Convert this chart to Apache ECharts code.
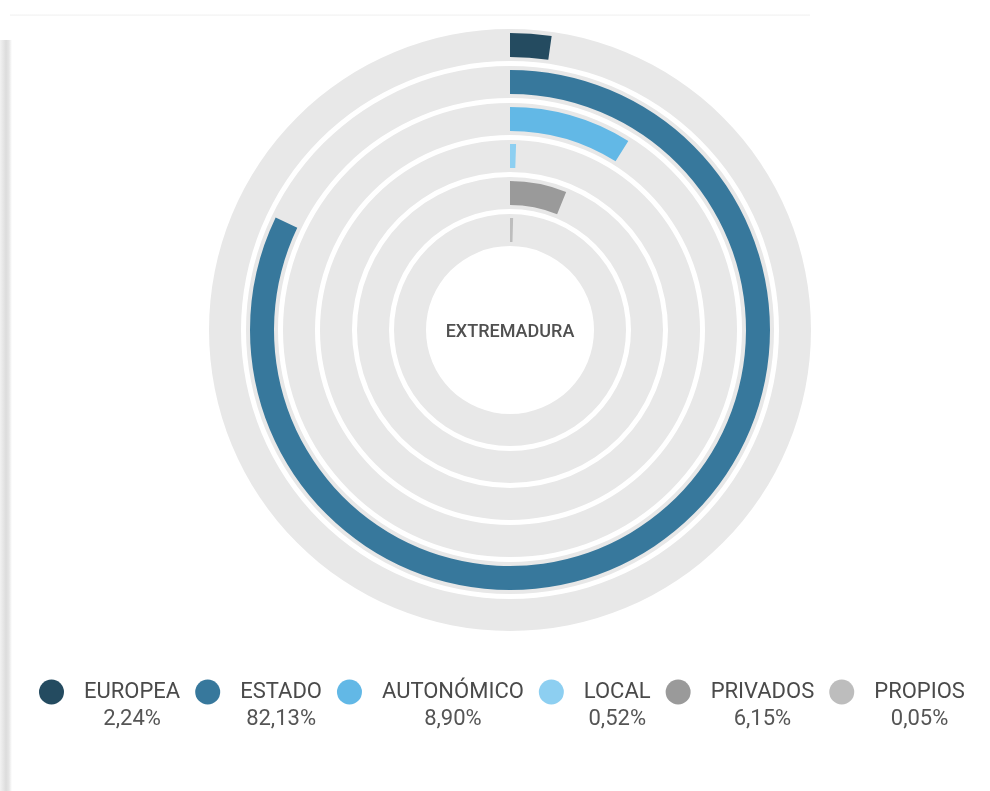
<!DOCTYPE html>
<html>
<head>
<meta charset="utf-8">
<script src="https://cdn.jsdelivr.net/npm/echarts@6/dist/echarts.min.js"></script>
<style>
  html, body { margin: 0; padding: 0; background: #fff; }
  #wrap { position: relative; width: 990px; height: 791px; overflow: hidden; }
  #shadow { position: absolute; left: 0; top: 40px; width: 12px; height: 751px;
    background: linear-gradient(to right, #f2f2f2 0px, #dcdcdc 6px, #e6e6e6 9px, #ffffff 12px); }
  #topline { position: absolute; left: 10px; top: 14px; width: 800px; height: 2px;
    background: linear-gradient(to bottom, #fafafa, #f5f5f5); }
  #main { position: absolute; left: 0; top: 0; width: 990px; height: 791px; }
</style>
</head>
<body>
<div id="wrap">
  <div id="shadow"></div>
  <div id="topline"></div>
  <div id="main"></div>
</div>
<script>
// ---- data ----
const categories = ['EUROPEA', 'ESTADO', 'AUTONÓMICO', 'LOCAL', 'PRIVADOS', 'PROPIOS'];
const values = [2.24, 82.13, 8.90, 0.52, 6.15, 0.05];
const valueLabels = ['2,24%', '82,13%', '8,90%', '0,52%', '6,15%', '0,05%'];
const colors = ['#244b60', '#37789c', '#62b8e6', '#8dcff1', '#9a9a9a', '#bdbdbd'];
const centerLabel = 'EXTREMADURA';
const total = 100;

const chart = echarts.init(document.getElementById('main'), null, { renderer: 'canvas' });

const CX = 510, CY = 330;
const OUTER = 303.5, PITCH = 37, TRACK_HALF = 16, BAR_HALF = 12;

const series = [];
categories.forEach((c, i) => {
  const mid = OUTER - PITCH * i - PITCH / 2;
  // gray track
  series.push({
    type: 'pie', center: [CX, CY], radius: [mid - TRACK_HALF, mid + TRACK_HALF],
    startAngle: 90, clockwise: true, silent: true, z: 1,
    label: { show: false }, labelLine: { show: false }, emphasis: { disabled: true },
    data: [{ name: 'track', value: total, itemStyle: { color: '#e8e8e8' } }]
  });
  // coloured arc
  series.push({
    name: c, type: 'pie', center: [CX, CY], radius: [mid - BAR_HALF, mid + BAR_HALF],
    startAngle: 90, clockwise: true, silent: true, z: 2, minAngle: 1.6,
    label: { show: false }, labelLine: { show: false }, emphasis: { disabled: true },
    data: [
      { name: c, value: values[i], itemStyle: { color: colors[i] } },
      { name: 'rest', value: total - values[i], itemStyle: { color: 'rgba(0,0,0,0)' } }
    ]
  });
});

chart.setOption({
  animation: false,
  backgroundColor: 'transparent',
  legend: {
    data: categories.map((c, i) => ({ name: c, itemStyle: { color: colors[i] } })),
    left: 39, top: 660, padding: 0,
    icon: 'circle', itemWidth: 27, itemHeight: 25, itemGap: 15,
    selectedMode: false,
    formatter: (name) => {
      const i = categories.indexOf(name);
      return '{p| }\n{n|' + name + '}\n{v|' + valueLabels[i] + '}';
    },
    textStyle: {
      padding: [0, 0, 0, 14],
      rich: {
        p: { lineHeight: 28, fontSize: 10 },
        n: { fontFamily: 'Roboto', fontSize: 22, color: '#4a4a4a', lineHeight: 26, align: 'center' },
        v: { fontFamily: 'Roboto', fontSize: 22, color: '#555', lineHeight: 28, align: 'center' }
      }
    }
  },
  graphic: [{
    type: 'text', x: CX, y: CY + 2,
    style: { text: centerLabel, fill: '#505050', font: '500 18px Roboto', align: 'center', verticalAlign: 'middle' }
  }],
  series: series
});
</script>
</body>
</html>
